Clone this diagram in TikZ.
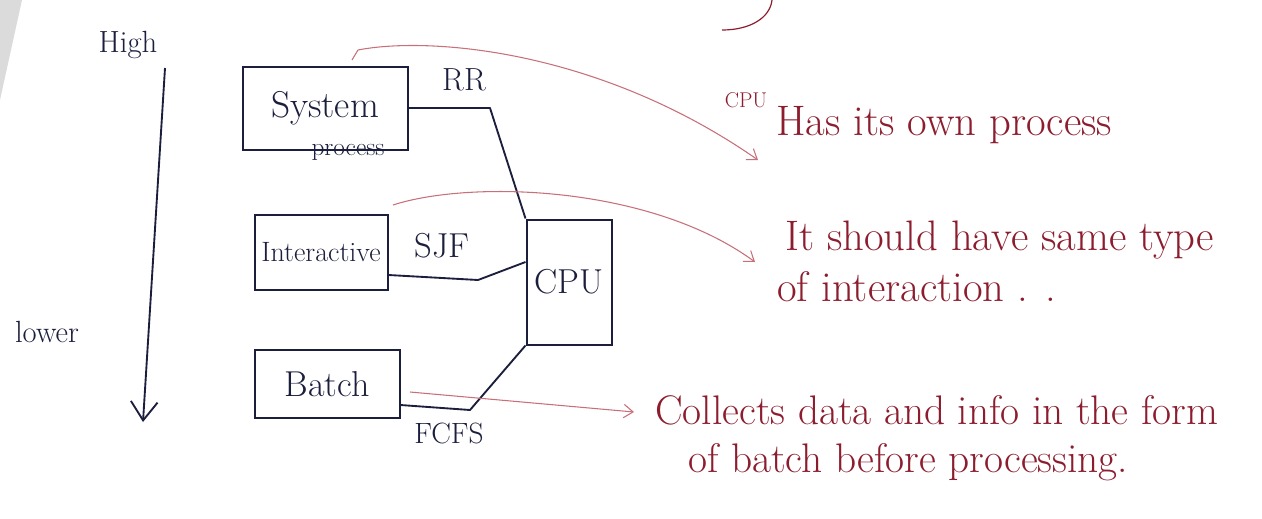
\documentclass[tikz,border=0pt]{standalone}
\usetikzlibrary{calc,arrows.meta}
\definecolor{ink}{HTML}{1B1E3C}
\definecolor{redink}{HTML}{8C1D2E}
\definecolor{redline}{HTML}{C8707A}
\newcommand{\myfs}[1]{\fontsize{#1}{#1}\selectfont}
\begin{document}
\begin{tikzpicture}[x=0.75pt,y=-0.75pt,
  procbox/.style={draw=ink,line width=1.5pt,rectangle,inner sep=0pt,text=ink},
  link/.style={draw=ink,line width=1.4pt,line join=round},
  lbl/.style={text=ink,inner sep=0pt},
  note/.style={text=redink,inner sep=0pt},
  pointer/.style={draw=redline,line width=0.8pt,-{Straight Barb[length=7pt,width=10pt]}}]
\useasboundingbox (0,0) rectangle (1262,518);
\fill[black!14] (0,0) -- (22,0) -- (0,100) -- cycle;
\draw[redink,line width=0.9pt] (772,0) .. controls (770,18) and (750,30) .. (722,30);

% priority scale
\node[lbl,font=\myfs{23}] (high) at (128,45) {High};
\node[lbl,font=\myfs{23}] (low) at (47,332) {lower};
\coordinate (scaletop) at (165,68);
\coordinate (scalebot) at (143,422);
\draw[link,-{Straight Barb[length=14pt,width=20pt]}] (scaletop) -- (scalebot);

% queues
\node[procbox,minimum width={165*0.75pt},minimum height={83*0.75pt},font=\myfs{28}] (sys) at (325,108) {System};
\node[lbl,font=\myfs{19}] (sysp) at (348,152) {process};
\node[procbox,minimum width={133*0.75pt},minimum height={75*0.75pt},font=\myfs{21}] (inter) at (321,252) {Interactive};
\node[procbox,minimum width={145*0.75pt},minimum height={68*0.75pt},font=\myfs{27}] (batch) at (327,384) {Batch};
\node[procbox,minimum width={85*0.75pt},minimum height={125*0.75pt},font=\myfs{26}] (cpu) at (569,282) {CPU};

% scheduling links
\coordinate (rrbend) at (490,108);
\draw[link] (sys.east) -- (rrbend) -- (cpu.north west);
\node[lbl,font=\myfs{24}] (rr) at (464,80) {RR};

\coordinate (sjfout) at ($(inter.east)+(0,23)$);
\coordinate (sjfbend) at (478,280);
\coordinate (sjfin) at ($(cpu.west)+(0,-20)$);
\draw[link] (sjfout) -- (sjfbend) -- (sjfin);
\node[lbl,font=\myfs{26}] (sjf) at (442,246) {SJF};

\coordinate (fcfsout) at ($(batch.east)+(0,21)$);
\coordinate (fcfsbend) at (470,410);
\draw[link] (fcfsout) -- (fcfsbend) -- (cpu.south west);
\node[lbl,font=\myfs{22}] (fcfs) at (449,433) {FCFS};

% notes
\coordinate (n1start) at (352,60);
\coordinate (n1end) at (758,160);
\draw[pointer] (n1start) -- ++(6,-10) .. controls (430,36) and (600,50) .. (n1end);
\node[note,font=\myfs{16}] (cpun) at (746,100) {CPU};
\node[note,font=\myfs{32},anchor=west] (n1) at (776,125) {Has its own process};

\coordinate (n2start) at (393,205);
\coordinate (n2end) at (755,262);
\draw[pointer] (n2start) .. controls (470,180) and (650,185) .. (n2end);
\node[note,font=\myfs{32},anchor=west] (n2a) at (785,240) {It should have same type};
\node[note,font=\myfs{32},anchor=west] (n2b) at (777,287) {of interaction . .};

\coordinate (n3start) at (410,392);
\coordinate (n3end) at (634,412);
\draw[pointer] (n3start) -- (n3end);
\node[note,font=\myfs{31},anchor=west] (n3a) at (655,410) {Collects data and info in the form};
\node[note,font=\myfs{31},anchor=west] (n3b) at (688,462) {of batch before processing.};
\end{tikzpicture}
\end{document}
